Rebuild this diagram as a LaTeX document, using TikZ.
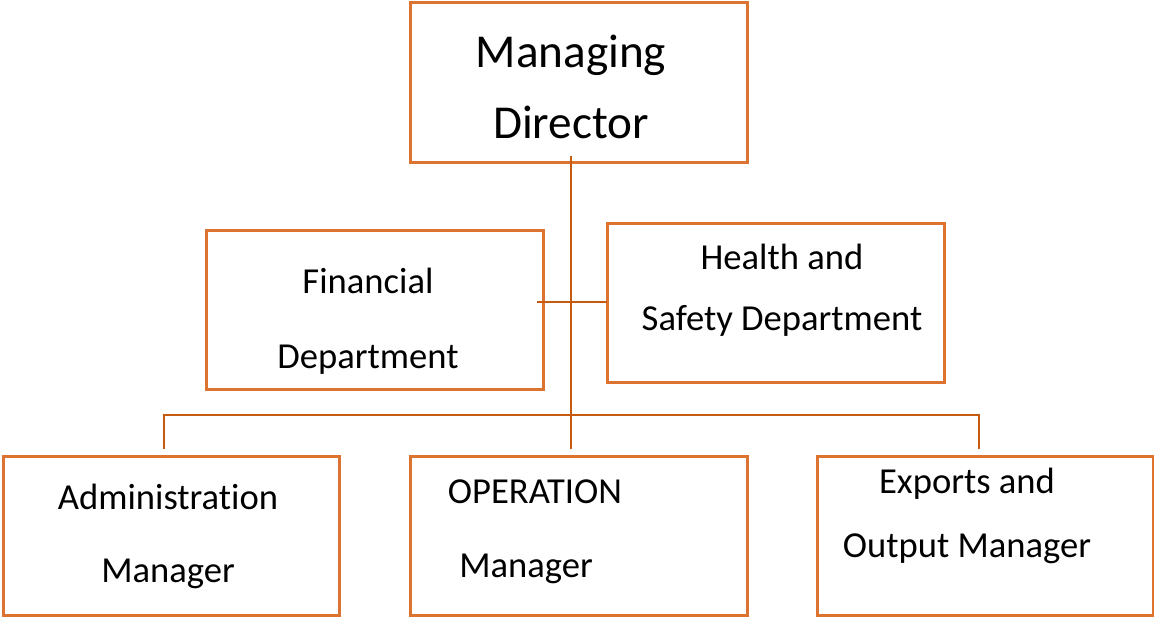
\documentclass[tikz,border=0pt]{standalone}
\usepackage{fontspec}
\setmainfont[Ligatures=NoCommon]{Carlito}
\definecolor{boxorange}{HTML}{DD7330}
\definecolor{lineorange}{HTML}{C55A11}
\begin{document}
\begin{tikzpicture}[x=1pt,y=-1pt,
  box/.style={draw=boxorange,line width=3pt,minimum width=337pt,minimum height=159pt,inner sep=0pt},
  txt/.style={anchor=base,inner sep=0pt,font=\fontsize{36.6}{44}\selectfont},
  bigtxt/.style={anchor=base,inner sep=0pt,font=\fontsize{47.2}{56}\selectfont},
  conn/.style={draw=lineorange,line width=2.8pt}]
\useasboundingbox (0,0) rectangle (1154,618);
% boxes
\node[box] (md) at (578.5,82.5) {};
\node[box] (fin) at (374.5,309.5) {};
\node[box] (hs) at (775.5,302.5) {};
\node[box,minimum width=336pt] (adm) at (171,535.5) {};
\node[box] (op) at (578.5,535.5) {};
\node[box,minimum width=336pt] (exp) at (985,535.5) {};
% texts
\node[bigtxt] (mdA) at (571,67) {Managing};
\node[bigtxt] (mdB) at (571,138) {Director};
\node[txt] (finA) at (368,293) {Financial};
\node[txt] (finB) at (368,368) {Department};
\node[txt] (hsA) at (782,269) {Health and};
\node[txt] (hsB) at (782,330) {Safety Department};
\node[txt] (admA) at (168,509) {Administration};
\node[txt] (admB) at (168,582) {Manager};
\node[txt] (opA) at (535,503) {OPERATION};
\node[txt] (opB) at (526,577) {Manager};
\node[txt] (expA) at (967,493) {Exports and};
\node[txt] (expB) at (967,557) {Output Manager};
% connector points
\coordinate (t0) at (571,156);
\coordinate (t1) at (571,449);
\coordinate (h0) at (537,302);
\coordinate (h1) at (607,302);
\coordinate (bl) at (164,449);
\coordinate (br) at (979,449);
\coordinate (busL) at (164,415);
\coordinate (busR) at (979,415);
% connectors
\draw[conn] (t0) -- (t1);
\draw[conn] (h0) -- (h1);
\draw[conn] (bl) -- (busL) -- (busR) -- (br);
\end{tikzpicture}
\end{document}
